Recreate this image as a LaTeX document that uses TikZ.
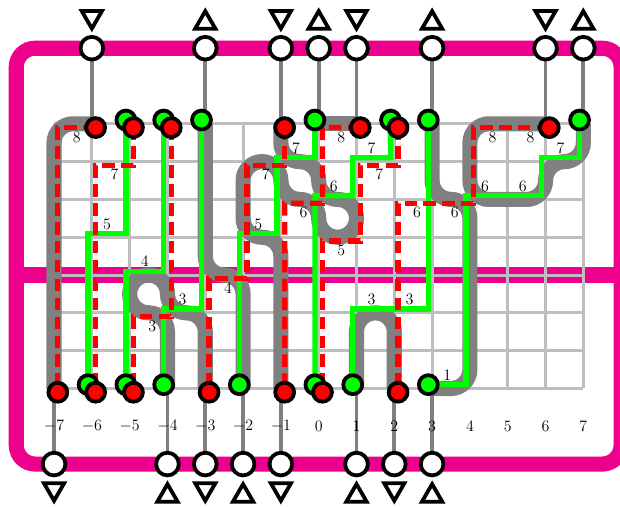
\documentclass[tikz,border=0pt]{standalone}
\usepackage{amsmath}
\usepackage{tikz}
\usetikzlibrary{positioning, arrows.meta, shapes.geometric, calc}

\definecolor{framemag}{RGB}{236,0,140}
\definecolor{wiregreen}{RGB}{0,255,0}
\definecolor{wirered}{RGB}{255,0,0}
\definecolor{routegray}{RGB}{128,128,128}
\definecolor{gridgray}{RGB}{190,190,190}

\pgfdeclarelayer{pins}
\pgfsetlayers{main,pins}

\begin{document}
\begin{tikzpicture}[
  frame/.style={draw=framemag, line width=0.4cm},
  gridline/.style={draw=gridgray, line width=0.08cm},
  route/.style={draw=routegray, line width=0.4cm, rounded corners=0.5cm},
  stub/.style={draw=routegray, line width=0.1cm},
  wireg/.style={draw=wiregreen, line width=0.14cm},
  wirer/.style={draw=wirered, line width=0.14cm, dash pattern=on 0.33cm off 0.17cm},
  port/.style={draw, circle, fill=white, line width=0.1cm, minimum size=0.6cm, inner sep=0pt, outer sep=0pt},
  pinr/.style={draw, circle, fill=wirered, line width=0.1cm, minimum size=0.5cm, inner sep=0pt, outer sep=0pt},
  ping/.style={draw, circle, fill=wiregreen, line width=0.1cm, minimum size=0.5cm, inner sep=0pt, outer sep=0pt},
  triup/.style={draw, regular polygon, regular polygon sides=3, line width=0.1cm, minimum size=0.62cm, inner sep=0pt, outer sep=0pt},
  tridown/.style={triup, regular polygon rotate=180},
  lab/.style={font=\fontsize{11.5}{14}\selectfont, inner sep=0pt}
]
  \useasboundingbox (-8.43,-6.11) rectangle (7.97,7.275);

  % frame and middle bar
  \draw[frame, rounded corners=0.5cm] (-8,-5) rectangle (8,6);
  \draw[frame] (-8,0) -- (8,0);
  \draw[gridline] (-7,-3) grid (7,4);

  % grid points under the ports
  \coordinate (ct-6) at (-6,4);
  \coordinate (ct-3) at (-3,4);
  \coordinate (ct-1) at (-1,4);
  \coordinate (ct0)  at (0,4);
  \coordinate (ct1)  at (1,4);
  \coordinate (ct3)  at (3,4);
  \coordinate (ct6)  at (6,4);
  \coordinate (ct7)  at (7,4);
  \coordinate (cb-7) at (-7,-3);
  \coordinate (cb-4) at (-4,-3);
  \coordinate (cb-3) at (-3,-3);
  \coordinate (cb-2) at (-2,-3);
  \coordinate (cb-1) at (-1,-3);
  \coordinate (cb1)  at (1,-3);
  \coordinate (cb2)  at (2,-3);
  \coordinate (cb3)  at (3,-3);

  % gray routes
  \draw[route] (cb-7) -- (-7,4) -- (ct-6);
  \draw[route] (ct-3) -- (-3,0) -- (-2,0) -- (cb-2);
  \draw[route] (cb-4) -- (-4,-1) -- (-5,-1) -- (-5,0) -- (-4,0) -- (-4,-1) -- (-3,-1) -- (cb-3);
  \draw[route] (ct-1) -- (-1,3) -- (0,3) -- (0,2) -- (1,2) -- (1,1) -- (0,1) -- (0,2) -- (-1,2) -- (-1,3)
    -- (-2,3) -- (-2,1) -- (-1,1) -- (cb-1);
  \draw[route] (ct0) -- (ct1);
  \draw[route] (cb1) -- (1,-1) -- (2,-1) -- (cb2);
  \draw[route] (ct3) -- (3,2) -- (4,2) -- (4,-3) -- (cb3);
  \draw[route] (ct6) -- (4,4) -- (4,2) -- (6,2) -- (6,3) -- (7,3) -- (ct7);

  \begin{pgfonlayer}{pins}
  % ports on the frame
  \node[port] (wt-6) at (-6,6) {};
  \node[port] (wt-3) at (-3,6) {};
  \node[port] (wt-1) at (-1,6) {};
  \node[port] (wt0)  at (0,6)  {};
  \node[port] (wt1)  at (1,6)  {};
  \node[port] (wt3)  at (3,6)  {};
  \node[port] (wt6)  at (6,6)  {};
  \node[port] (wt7)  at (7,6)  {};
  \node[port] (wb-7) at (-7,-5) {};
  \node[port] (wb-4) at (-4,-5) {};
  \node[port] (wb-3) at (-3,-5) {};
  \node[port] (wb-2) at (-2,-5) {};
  \node[port] (wb-1) at (-1,-5) {};
  \node[port] (wb1)  at (1,-5)  {};
  \node[port] (wb2)  at (2,-5)  {};
  \node[port] (wb3)  at (3,-5)  {};

  % green pins
  \node[ping] (gt-5) at (-5.1,4.1) {};
  \node[ping] (gt-4) at (-4.1,4.1) {};
  \node[ping] (gt-3) at (-3.1,4.1) {};
  \node[ping] (gt0)  at (-0.1,4.1) {};
  \node[ping] (gt2)  at (1.9,4.1)  {};
  \node[ping] (gt3)  at (2.9,4.1)  {};
  \node[ping] (gt7)  at (6.9,4.1)  {};
  \node[ping] (gb-6) at (-6.1,-2.9) {};
  \node[ping] (gb-5) at (-5.1,-2.9) {};
  \node[ping] (gb-4) at (-4.1,-2.9) {};
  \node[ping] (gb-2) at (-2.1,-2.9) {};
  \node[ping] (gb0)  at (-0.1,-2.9) {};
  \node[ping] (gb1)  at (0.9,-2.9)  {};
  \node[ping] (gb3)  at (2.9,-2.9)  {};

  % red pins
  \node[pinr] (rt-6) at (-5.9,3.9) {};
  \node[pinr] (rt-5) at (-4.9,3.9) {};
  \node[pinr] (rt-4) at (-3.9,3.9) {};
  \node[pinr] (rt-1) at (-0.9,3.9) {};
  \node[pinr] (rt1)  at (1.1,3.9)  {};
  \node[pinr] (rt2)  at (2.1,3.9)  {};
  \node[pinr] (rt6)  at (6.1,3.9)  {};
  \node[pinr] (rb-7) at (-6.9,-3.1) {};
  \node[pinr] (rb-6) at (-5.9,-3.1) {};
  \node[pinr] (rb-5) at (-4.9,-3.1) {};
  \node[pinr] (rb-3) at (-2.9,-3.1) {};
  \node[pinr] (rb-1) at (-0.9,-3.1) {};
  \node[pinr] (rb0)  at (0.1,-3.1)  {};
  \node[pinr] (rb2)  at (2.1,-3.1)  {};
  \end{pgfonlayer}

  % triangles beyond the ports
  \node[tridown] (tt-6) at (-6,6.83) {};
  \node[triup]   (tt-3) at (-3,6.67) {};
  \node[tridown] (tt-1) at (-1,6.83) {};
  \node[triup]   (tt0)  at (0,6.67)  {};
  \node[tridown] (tt1)  at (1,6.83)  {};
  \node[triup]   (tt3)  at (3,6.67)  {};
  \node[tridown] (tt6)  at (6,6.83)  {};
  \node[triup]   (tt7)  at (7,6.67)  {};
  \node[tridown] (tb-7) at (-7,-5.66) {};
  \node[triup]   (tb-4) at (-4,-5.84) {};
  \node[tridown] (tb-3) at (-3,-5.66) {};
  \node[triup]   (tb-2) at (-2,-5.84) {};
  \node[tridown] (tb-1) at (-1,-5.66) {};
  \node[triup]   (tb1)  at (1,-5.84)  {};
  \node[tridown] (tb2)  at (2,-5.66)  {};
  \node[triup]   (tb3)  at (3,-5.84)  {};

  % stubs from ports to the grid
  \draw[stub] (wt-6) -- (ct-6);
  \draw[stub] (wt-3) -- (ct-3);
  \draw[stub] (wt-1) -- (ct-1);
  \draw[stub] (wt0)  -- (ct0);
  \draw[stub] (wt1)  -- (ct1);
  \draw[stub] (wt3)  -- (ct3);
  \draw[stub] (wt6)  -- (ct6);
  \draw[stub] (wt7)  -- (ct7);
  \draw[stub] (wb-7) -- (cb-7);
  \draw[stub] (wb-4) -- (cb-4);
  \draw[stub] (wb-3) -- (cb-3);
  \draw[stub] (wb-2) -- (cb-2);
  \draw[stub] (wb-1) -- (cb-1);
  \draw[stub] (wb1)  -- (cb1);
  \draw[stub] (wb2)  -- (cb2);
  \draw[stub] (wb3)  -- (cb3);

  % green wires
  \draw[wireg] (gb-6.center) -- ++(0,4) -- ++(1,0) -- (gt-5.center);
  \draw[wireg] (gb-5.center) -- ++(0,3) -- ++(1,0) -- (gt-4.center);
  \draw[wireg] (gb-4.center) -- ++(0,2) -- ++(1,0) -- (gt-3.center);
  \draw[wireg] (gb-2.center) -- ++(0,4) -- ++(1,0) -- ++(0,2) -- ++(1,0) -- (gt0.center);
  \draw[wireg] (gb0.center)  -- ++(0,5) -- ++(1,0) -- ++(0,1) -- ++(1,0) -- (gt2.center);
  \draw[wireg] (gb1.center)  -- ++(0,2) -- ++(2,0) -- (gt3.center);
  \draw[wireg] (gb3.center)  -- ++(1,0) -- ++(0,5) -- ++(2,0) -- ++(0,1) -- ++(1,0) -- (gt7.center);

  % red wires
  \draw[wirer] (rt-6.center) -- ++(-1,0) -- (rb-7.center);
  \draw[wirer] (rt-5.center) -- ++(0,-1) -- ++(-1,0) -- (rb-6.center);
  \draw[wirer] (rt-4.center) -- ++(0,-5) -- ++(-1,0) -- (rb-5.center);
  \draw[wirer] (rt-1.center) -- ++(0,-1) -- ++(-1,0) -- ++(0,-3) -- ++(-1,0) -- (rb-3.center);
  \draw[wirer] (rt1.center)  -- ++(-1,0) -- ++(0,-2) -- ++(-1,0) -- (rb-1.center);
  \draw[wirer] (rt2.center)  -- ++(0,-1) -- ++(-1,0) -- ++(0,-2) -- ++(-1,0) -- (rb0.center);
  \draw[wirer] (rt6.center)  -- ++(-2,0) -- ++(0,-2) -- ++(-2,0) -- (rb2.center);

  % segment lengths, green
  \node[lab] (ng1)  at (-5.6,1.35)  {$5$};
  \node[lab] (ng2)  at (-4.6,0.35)  {$4$};
  \node[lab] (ng3)  at (-3.6,-0.65) {$3$};
  \node[lab] (ng4)  at (-1.6,1.35)  {$5$};
  \node[lab] (ng5)  at (-0.6,3.35)  {$7$};
  \node[lab] (ng6)  at (0.4,2.35)   {$6$};
  \node[lab] (ng7)  at (1.4,3.35)   {$7$};
  \node[lab] (ng8)  at (1.4,-0.65)  {$3$};
  \node[lab] (ng9)  at (2.4,-0.65)  {$3$};
  \node[lab] (ng10) at (3.4,-2.65)  {$1$};
  \node[lab] (ng11) at (4.4,2.35)   {$6$};
  \node[lab] (ng12) at (5.4,2.35)   {$6$};
  \node[lab] (ng13) at (6.4,3.35)   {$7$};

  % segment lengths, red
  \node[lab] (nr1)  at (-6.4,3.65)  {$8$};
  \node[lab] (nr2)  at (-5.4,2.65)  {$7$};
  \node[lab] (nr3)  at (-4.4,-1.35) {$3$};
  \node[lab] (nr4)  at (-2.4,-0.35) {$4$};
  \node[lab] (nr5)  at (-1.4,2.65)  {$7$};
  \node[lab] (nr6)  at (-0.4,1.65)  {$6$};
  \node[lab] (nr7)  at (0.6,3.65)   {$8$};
  \node[lab] (nr8)  at (0.6,0.65)   {$5$};
  \node[lab] (nr9)  at (1.6,2.65)   {$7$};
  \node[lab] (nr10) at (2.6,1.65)   {$6$};
  \node[lab] (nr11) at (3.6,1.65)   {$6$};
  \node[lab] (nr12) at (4.6,3.65)   {$8$};
  \node[lab] (nr13) at (5.6,3.65)   {$8$};

  % axis numbers
  \node[lab] (ax-7) at (-7,-4) {$-7$};
  \node[lab] (ax-6) at (-6,-4) {$-6$};
  \node[lab] (ax-5) at (-5,-4) {$-5$};
  \node[lab] (ax-4) at (-4,-4) {$-4$};
  \node[lab] (ax-3) at (-3,-4) {$-3$};
  \node[lab] (ax-2) at (-2,-4) {$-2$};
  \node[lab] (ax-1) at (-1,-4) {$-1$};
  \node[lab] (ax0)  at (0,-4)  {$0$};
  \node[lab] (ax1)  at (1,-4)  {$1$};
  \node[lab] (ax2)  at (2,-4)  {$2$};
  \node[lab] (ax3)  at (3,-4)  {$3$};
  \node[lab] (ax4)  at (4,-4)  {$4$};
  \node[lab] (ax5)  at (5,-4)  {$5$};
  \node[lab] (ax6)  at (6,-4)  {$6$};
  \node[lab] (ax7)  at (7,-4)  {$7$};
\end{tikzpicture}
\end{document}
